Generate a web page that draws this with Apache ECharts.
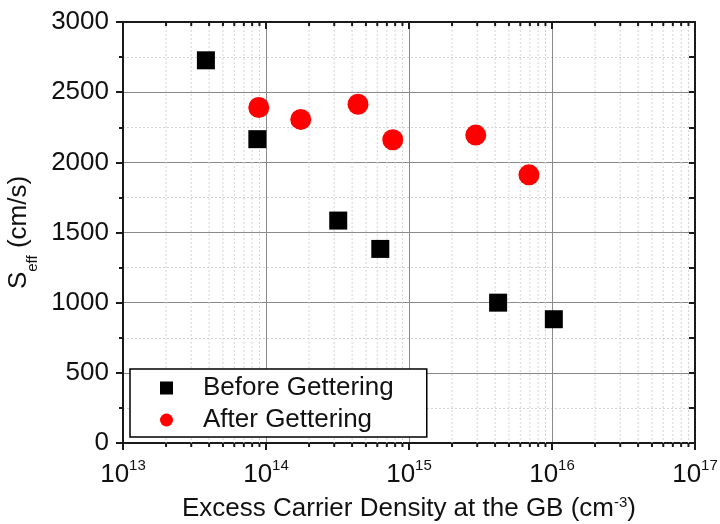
<!DOCTYPE html>
<html>
<head>
<meta charset="utf-8">
<script src="https://cdn.jsdelivr.net/npm/echarts@6/dist/echarts.min.js"></script>
<style>
  html, body { margin: 0; padding: 0; background: #fff; }
  #chart { width: 720px; height: 524px; }
</style>
</head>
<body>
<div id="chart"></div>
<script>
// Effective surface recombination velocity vs. excess carrier density at the grain boundary
const beforeDensity = [3.8e13, 8.7e13, 3.2e14, 6.3e14, 4.2e15, 1.03e16];
const beforeSeff    = [2727, 2165, 1585, 1383, 1000, 882];
const afterDensity  = [8.9e13, 1.75e14, 4.4e14, 7.7e14, 2.93e15, 6.9e15];
const afterSeff     = [2391, 2306, 2414, 2161, 2194, 1911];

const seriesNames = ['Before Gettering', 'After Gettering'];
const xRange = [1e13, 1e17];
const yRange = [0, 3000];
const yTicks = [0, 500, 1000, 1500, 2000, 2500, 3000];

// Minor positions of the logarithmic axis (2..9 within each decade)
const decades = [13, 14, 15, 16];
const mantissas = [2, 3, 4, 5, 6, 7, 8, 9];
const minorLogTicks = [];
decades.forEach(d => mantissas.forEach(m => minorLogTicks.push(m * Math.pow(10, d))));

const font = 'Liberation Sans, Arial, sans-serif';
const axisColor = '#1a1a1a';
const textColor = '#111';
const fs = 26;

const chart = echarts.init(document.getElementById('chart'), null, { renderer: 'canvas' });

const option = {
  backgroundColor: '#fff',
  animation: false,
  grid: { left: 123, right: 25, top: 22, bottom: 81, containLabel: false, outerBoundsMode: 'none' },
  legend: {
    orient: 'vertical',
    left: 130,
    top: 369,
    padding: [6, 33, 4, 30],
    itemGap: 6,
    itemWidth: 13,
    itemHeight: 13,
    borderColor: '#000',
    borderWidth: 1.5,
    backgroundColor: '#fff',
    textStyle: { fontFamily: font, fontSize: fs, color: textColor, padding: [0, 0, 0, 25] },
    data: [
      { name: seriesNames[0], icon: 'rect' },
      { name: seriesNames[1], icon: 'circle' }
    ]
  },
  xAxis: [
    {
      type: 'log',
      logBase: 10,
      min: xRange[0],
      max: xRange[1],
      splitNumber: 4,
      position: 'bottom',
      name: 'Excess Carrier Density at the GB (cm{sup|-3})',
      nameLocation: 'middle',
      nameGap: 52,
      nameTextStyle: {
        fontFamily: font, fontSize: fs, color: textColor,
        rich: { sup: { fontFamily: font, fontSize: 15, verticalAlign: 'top', color: textColor, lineHeight: 28 } }
      },
      axisLine: { show: true, onZero: false, lineStyle: { color: axisColor, width: 2 } },
      axisTick: { show: true, inside: false, length: 7, lineStyle: { color: axisColor, width: 2 } },
      axisLabel: {
        margin: 15,
        formatter: v => '{b|10}{e|' + Math.round(Math.log10(v)) + '}',
        rich: {
          b: { fontFamily: font, fontSize: fs, color: textColor, lineHeight: 30, verticalAlign: 'bottom' },
          e: { fontFamily: font, fontSize: 15, color: textColor, lineHeight: 30, verticalAlign: 'top' }
        }
      },
      splitLine: { show: true, lineStyle: { color: '#8a8a8a', width: 1 } }
    },
    {
      type: 'log',
      logBase: 10,
      min: xRange[0],
      max: xRange[1],
      splitNumber: 4,
      position: 'top',
      axisLine: { show: true, onZero: false, lineStyle: { color: axisColor, width: 2 } },
      axisTick: { show: true, inside: true, length: 7, lineStyle: { color: axisColor, width: 2 } },
      axisLabel: { show: false },
      splitLine: { show: false }
    }
  ],
  yAxis: [
    {
      type: 'value',
      min: yRange[0],
      max: yRange[1],
      interval: 500,
      position: 'left',
      name: '{s|S}{sub|eff}{n| (cm/s)}',
      nameLocation: 'middle',
      nameGap: 78,
      nameRotate: 90,
      nameTextStyle: {
        rich: {
          s: { fontFamily: font, fontSize: fs, color: textColor, lineHeight: 34, verticalAlign: 'top' },
          sub: { fontFamily: font, fontSize: 15, color: textColor, lineHeight: 34, verticalAlign: 'bottom' },
          n: { fontFamily: font, fontSize: fs, color: textColor, lineHeight: 34, verticalAlign: 'top' }
        }
      },
      axisLine: { show: true, onZero: false, lineStyle: { color: axisColor, width: 2 } },
      axisTick: { show: true, inside: false, length: 7, lineStyle: { color: axisColor, width: 2 } },
      minorTick: { show: true, splitNumber: 2, length: 4, lineStyle: { color: axisColor, width: 2 } },
      axisLabel: {
        margin: 14,
        fontFamily: font, fontSize: fs, color: textColor,
        formatter: v => (yTicks.indexOf(v) >= 0 ? String(v) : '')
      },
      splitLine: { show: true, lineStyle: { color: '#8a8a8a', width: 1 } },
      minorSplitLine: { show: true, lineStyle: { color: '#d4d4d4', width: 1, type: [2, 2] } }
    },
    {
      type: 'value',
      min: yRange[0],
      max: yRange[1],
      interval: 250,
      position: 'right',
      axisLine: { show: true, onZero: false, lineStyle: { color: axisColor, width: 2 } },
      axisTick: { show: true, inside: true, length: 6, lineStyle: { color: axisColor, width: 2 } },
      axisLabel: { show: false },
      splitLine: { show: false }
    }
  ],
  series: [
    {
      // minor decade grid lines plus minor ticks on the bottom and top axes
      type: 'custom',
      xAxisIndex: 0,
      yAxisIndex: 0,
      silent: true,
      clip: false,
      z: 1,
      data: minorLogTicks.map(v => [v, 0]),
      renderItem: (params, api) => {
        const cs = params.coordSys;
        const x = api.coord([api.value(0), 0])[0];
        const top = cs.y, bottom = cs.y + cs.height;
        return {
          type: 'group',
          children: [
            { type: 'line', shape: { x1: x, y1: top, x2: x, y2: bottom },
              style: { stroke: '#d4d4d4', lineWidth: 1, lineDash: [2, 2] } },
            { type: 'line', shape: { x1: x, y1: bottom, x2: x, y2: bottom + 4 },
              style: { stroke: axisColor, lineWidth: 2 } },
            { type: 'line', shape: { x1: x, y1: top, x2: x, y2: top + 4 },
              style: { stroke: axisColor, lineWidth: 2 } }
          ]
        };
      }
    },
    {
      name: seriesNames[0],
      type: 'scatter',
      symbol: 'rect',
      symbolSize: 18,
      itemStyle: { color: '#000', opacity: 1 },
      z: 5,
      data: beforeDensity.map((x, i) => [x, beforeSeff[i]])
    },
    {
      name: seriesNames[1],
      type: 'scatter',
      symbol: 'circle',
      symbolSize: 21,
      itemStyle: { color: '#ff0000', opacity: 1 },
      z: 5,
      data: afterDensity.map((x, i) => [x, afterSeff[i]])
    }
  ]
};

chart.setOption(option);
</script>
</body>
</html>
